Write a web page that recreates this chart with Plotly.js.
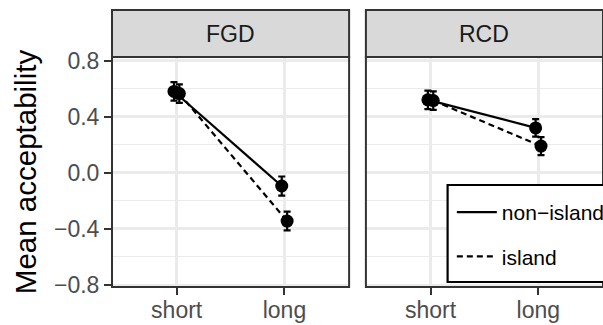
<!DOCTYPE html>
<html>
<head>
<meta charset="utf-8">
<script src="https://cdn.plot.ly/plotly-3.0.1.min.js"></script>
<style>html,body{margin:0;padding:0;background:#fff;overflow:hidden;}#chart{width:620px;height:325px;}</style>
</head>
<body>
<div id="chart"></div>
<script>
// ---- data ----
const categories = ['short', 'long'];
const panels = ['FGD', 'RCD'];
const seriesNames = ['non\u2212island', 'island'];
const fgdNonIsland = [0.58, -0.095];
const fgdIsland = [0.565, -0.345];
const rcdNonIsland = [0.52, 0.32];
const rcdIsland = [0.515, 0.19];
const fgdNonIslandSE = [0.066, 0.068];
const fgdIslandSE = [0.066, 0.067];
const rcdNonIslandSE = [0.066, 0.063];
const rcdIslandSE = [0.066, 0.064];
const yTicks = [-0.8, -0.4, 0.0, 0.4, 0.8];

// ---- build ----
// The reference is a crop of a slightly wider figure: the right panel runs past the
// right edge of the 603px window, so the canvas is drawn a bit wider and clipped.
const W = 620, H = 325;
const M = {l: 112, r: 11, t: 10, b: 38};
const plotW = W - M.l - M.r, plotH = H - M.t - M.b;
const px2x = p => (p - M.l) / plotW;
const px2y = p => (H - M.b - p) / plotH;
const panelTop = px2y(57);
const dom1 = [0, px2x(352)];
const dom2 = [px2x(369), 1];
const dodge = [-0.025, 0.025];
const dashes = ['solid', '6px,4px'];
const FONT = 'Liberation Sans, Arial, Helvetica, sans-serif';

const panelData = [
  {vals: [fgdNonIsland, fgdIsland], se: [fgdNonIslandSE, fgdIslandSE], xa: 'x', ya: 'y'},
  {vals: [rcdNonIsland, rcdIsland], se: [rcdNonIslandSE, rcdIslandSE], xa: 'x2', ya: 'y2'}
];

const traces = [];
panelData.forEach((p, pi) => {
  p.vals.forEach((v, si) => {
    const xs = categories.map((c, ci) => ci + dodge[si]);
    traces.push({
      type: 'scatter', mode: 'lines', x: xs, y: v, xaxis: p.xa, yaxis: p.ya,
      name: seriesNames[si], legendgroup: 'g' + si, showlegend: pi === 0,
      line: {color: 'black', width: 2.2, dash: dashes[si]}, hoverinfo: 'skip'
    });
  });
});
panelData.forEach((p, pi) => {
  p.vals.forEach((v, si) => {
    const xs = categories.map((c, ci) => ci + dodge[si]);
    traces.push({
      type: 'scatter', mode: 'markers', x: xs, y: v, xaxis: p.xa, yaxis: p.ya,
      name: seriesNames[si], legendgroup: 'g' + si, showlegend: false,
      marker: {color: 'black', size: 13},
      error_y: {type: 'data', array: p.se[si], visible: true, color: 'black', thickness: 2.2, width: 3.5}
    });
  });
});

const xCommon = {
  tickvals: categories.map((c, i) => i), ticktext: categories,
  range: [-0.6, 1.6],
  ticks: 'outside', ticklen: 7, tickwidth: 2, tickcolor: '#333333',
  ticklabelstandoff: -5,
  tickfont: {family: FONT, size: 23, color: '#4D4D4D'},
  showgrid: true, gridcolor: '#EBEBEB', gridwidth: 2.5,
  zeroline: false, showline: false, fixedrange: true
};
const yCommon = {
  range: [-0.816, 0.826], tickvals: yTicks, ticktext: yTicks.map(v => v.toFixed(1).replace('-', '\u2212')),
  showgrid: true, gridcolor: '#EBEBEB', gridwidth: 2.5,
  minor: {dtick: 0.2, tick0: 0, showgrid: true, gridcolor: '#EBEBEB', gridwidth: 1.3, ticks: ''},
  zeroline: false, showline: false, fixedrange: true,
  domain: [0, panelTop]
};

const shapes = [];
[dom1, dom2].forEach(d => {
  shapes.push({type: 'rect', xref: 'paper', yref: 'paper', x0: d[0], x1: d[1], y0: 0, y1: panelTop,
    line: {color: '#333333', width: 2}, fillcolor: 'rgba(0,0,0,0)', layer: 'above'});
  shapes.push({type: 'rect', xref: 'paper', yref: 'paper', x0: d[0], x1: d[1], y0: panelTop, y1: 1,
    line: {color: '#333333', width: 2}, fillcolor: '#D9D9D9', layer: 'above'});
});
// legend box
shapes.push({type: 'rect', xref: 'paper', yref: 'paper', x0: px2x(451.7), x1: px2x(640), y0: px2y(282), y1: px2y(185),
  line: {color: 'black', width: 2.2}, fillcolor: 'white', layer: 'above'});

const annotations = panels.map((t, i) => ({
  text: t, xref: 'paper', yref: 'paper',
  x: ((i === 0 ? dom1 : dom2)[0] + (i === 0 ? dom1 : dom2)[1]) / 2, y: (panelTop + 1) / 2,
  showarrow: false, xanchor: 'center', yanchor: 'middle',
  font: {family: FONT, size: 23, color: '#1A1A1A'}
}));

const layout = {
  width: W, height: H, margin: M,
  paper_bgcolor: 'white', plot_bgcolor: 'white',
  font: {family: FONT},
  showlegend: true,
  xaxis: Object.assign({}, xCommon, {domain: dom1, anchor: 'y'}),
  xaxis2: Object.assign({}, xCommon, {domain: dom2, anchor: 'y2'}),
  yaxis: Object.assign({}, yCommon, {anchor: 'x', ticks: 'outside', ticklen: 7, tickwidth: 2, tickcolor: '#333333',
    tickfont: {family: FONT, size: 23, color: '#4D4D4D'},
    title: {text: 'Mean acceptability', font: {family: FONT, size: 29.5, color: 'black'}, standoff: 8}}),
  yaxis2: Object.assign({}, yCommon, {anchor: 'x2', matches: 'y', showticklabels: false, ticks: ''}),
  legend: {
    x: px2x(456), y: px2y(192), xanchor: 'left', yanchor: 'top',
    bgcolor: 'rgba(0,0,0,0)', borderwidth: 0,
    font: {family: FONT, size: 21, color: 'black'},
    traceorder: 'grouped', tracegroupgap: 14, itemwidth: 40
  },
  shapes: shapes,
  annotations: annotations
};

Plotly.newPlot('chart', traces, layout, {staticPlot: true, displayModeBar: false});
</script>
</body>
</html>
